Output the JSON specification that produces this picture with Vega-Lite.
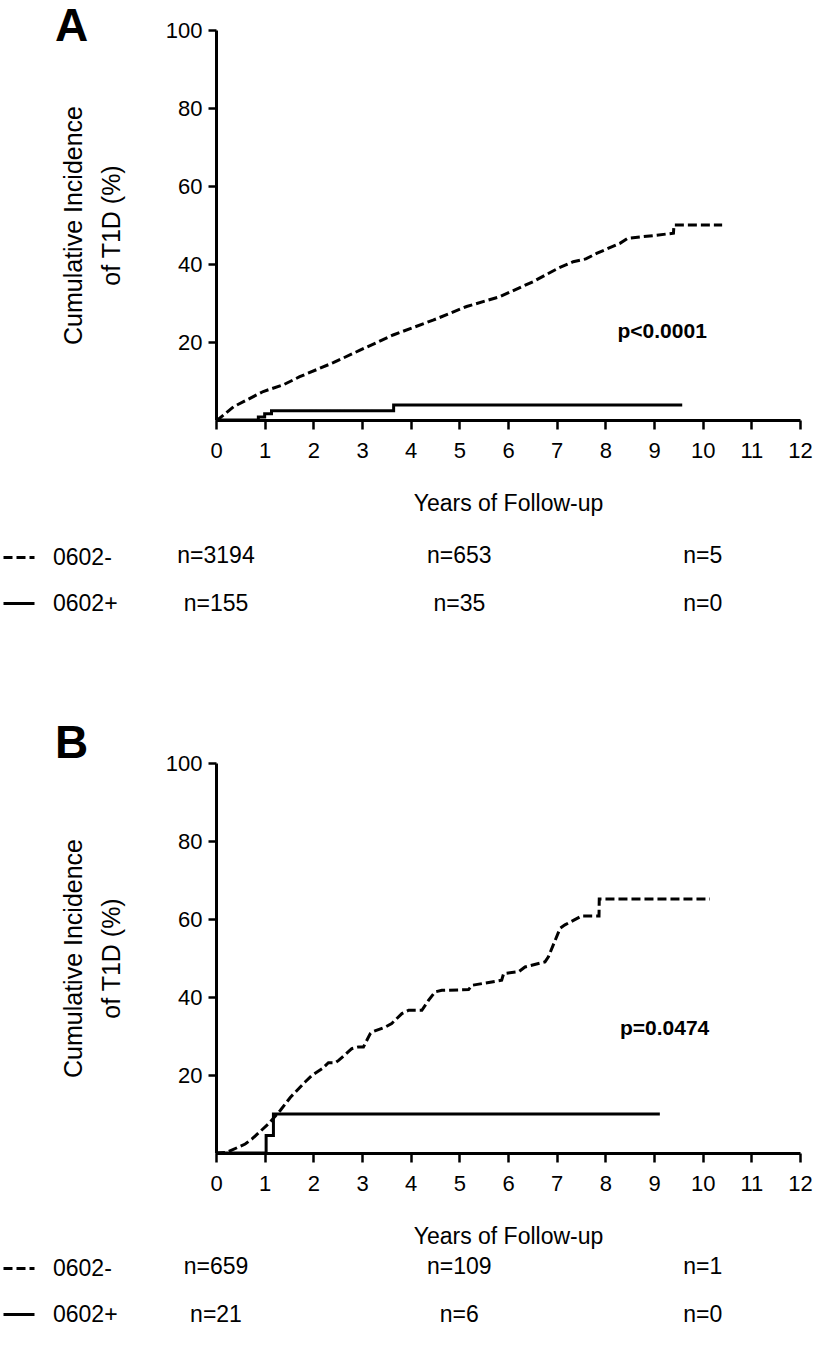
{
  "$schema": "https://vega.github.io/schema/vega-lite/v6.json",
  "padding": {"left": 2, "top": 4, "right": 0, "bottom": 0},
  "background": "white",
  "config": {
    "font": "Liberation Sans",
    "view": {"stroke": null},
    "axis": {"domainColor": "black", "tickColor": "black", "labelColor": "black", "titleColor": "black", "grid": false, "domainWidth": 3, "tickWidth": 2.5, "labelFontSize": 22, "titleFontWeight": "normal", "labelFont": "Liberation Sans", "titleFont": "Liberation Sans"},
    "text": {"color": "black", "font": "Liberation Sans"},
    "line": {"color": "black"},
    "title": {"color": "black", "font": "Liberation Sans"}
  },
  "datasets": {
    "curveA": [
      {"i": 0, "group": "0602-", "years": 0, "incidence": 0},
      {"i": 1, "group": "0602-", "years": 0.05, "incidence": 0.2},
      {"i": 2, "group": "0602-", "years": 0.36, "incidence": 3.4},
      {"i": 3, "group": "0602-", "years": 0.97, "incidence": 7.3},
      {"i": 4, "group": "0602-", "years": 1.38, "incidence": 9.0},
      {"i": 5, "group": "0602-", "years": 1.72, "incidence": 11.1},
      {"i": 6, "group": "0602-", "years": 2.41, "incidence": 14.7},
      {"i": 7, "group": "0602-", "years": 2.96, "incidence": 17.9},
      {"i": 8, "group": "0602-", "years": 3.64, "incidence": 21.8},
      {"i": 9, "group": "0602-", "years": 4.46, "incidence": 25.6},
      {"i": 10, "group": "0602-", "years": 5.15, "incidence": 29.1},
      {"i": 11, "group": "0602-", "years": 5.83, "incidence": 31.6},
      {"i": 12, "group": "0602-", "years": 6.52, "incidence": 35.5},
      {"i": 13, "group": "0602-", "years": 7.03, "incidence": 38.9},
      {"i": 14, "group": "0602-", "years": 7.34, "incidence": 40.6},
      {"i": 15, "group": "0602-", "years": 7.6, "incidence": 41.3},
      {"i": 16, "group": "0602-", "years": 7.82, "incidence": 42.7},
      {"i": 17, "group": "0602-", "years": 8.3, "incidence": 45.3},
      {"i": 18, "group": "0602-", "years": 8.46, "incidence": 46.6},
      {"i": 19, "group": "0602-", "years": 9.0, "incidence": 47.3},
      {"i": 20, "group": "0602-", "years": 9.4, "incidence": 47.9},
      {"i": 21, "group": "0602-", "years": 9.41, "incidence": 50.0},
      {"i": 22, "group": "0602-", "years": 10.4, "incidence": 50.0},
      {"i": 0, "group": "0602+", "years": 0, "incidence": 0},
      {"i": 1, "group": "0602+", "years": 0.87, "incidence": 0},
      {"i": 2, "group": "0602+", "years": 0.87, "incidence": 0.8},
      {"i": 3, "group": "0602+", "years": 1.0, "incidence": 0.8},
      {"i": 4, "group": "0602+", "years": 1.0, "incidence": 1.6},
      {"i": 5, "group": "0602+", "years": 1.14, "incidence": 1.6},
      {"i": 6, "group": "0602+", "years": 1.14, "incidence": 2.4},
      {"i": 7, "group": "0602+", "years": 3.65, "incidence": 2.4},
      {"i": 8, "group": "0602+", "years": 3.65, "incidence": 3.85},
      {"i": 9, "group": "0602+", "years": 9.58, "incidence": 3.85}
    ],
    "curveB": [
      {"i": 0, "group": "0602-", "years": 0, "incidence": 0},
      {"i": 1, "group": "0602-", "years": 0.23, "incidence": 0.2},
      {"i": 2, "group": "0602-", "years": 0.6, "incidence": 2.3},
      {"i": 3, "group": "0602-", "years": 0.74, "incidence": 3.6},
      {"i": 4, "group": "0602-", "years": 1.08, "incidence": 7.5},
      {"i": 5, "group": "0602-", "years": 1.32, "incidence": 10.9},
      {"i": 6, "group": "0602-", "years": 1.53, "incidence": 14.3},
      {"i": 7, "group": "0602-", "years": 1.63, "incidence": 15.6},
      {"i": 8, "group": "0602-", "years": 1.83, "incidence": 18.2},
      {"i": 9, "group": "0602-", "years": 1.97, "incidence": 19.9},
      {"i": 10, "group": "0602-", "years": 2.18, "incidence": 21.6},
      {"i": 11, "group": "0602-", "years": 2.31, "incidence": 23.15},
      {"i": 12, "group": "0602-", "years": 2.45, "incidence": 23.15},
      {"i": 13, "group": "0602-", "years": 2.52, "incidence": 23.75},
      {"i": 14, "group": "0602-", "years": 2.79, "incidence": 26.75},
      {"i": 15, "group": "0602-", "years": 2.93, "incidence": 27.2},
      {"i": 16, "group": "0602-", "years": 3.03, "incidence": 27.2},
      {"i": 17, "group": "0602-", "years": 3.1, "incidence": 28.9},
      {"i": 18, "group": "0602-", "years": 3.17, "incidence": 30.6},
      {"i": 19, "group": "0602-", "years": 3.2, "incidence": 31.0},
      {"i": 20, "group": "0602-", "years": 3.48, "incidence": 32.3},
      {"i": 21, "group": "0602-", "years": 3.61, "incidence": 33.2},
      {"i": 22, "group": "0602-", "years": 3.82, "incidence": 35.75},
      {"i": 23, "group": "0602-", "years": 3.96, "incidence": 36.6},
      {"i": 24, "group": "0602-", "years": 4.23, "incidence": 36.6},
      {"i": 25, "group": "0602-", "years": 4.37, "incidence": 39.2},
      {"i": 26, "group": "0602-", "years": 4.5, "incidence": 41.3},
      {"i": 27, "group": "0602-", "years": 4.64, "incidence": 41.7},
      {"i": 28, "group": "0602-", "years": 5.19, "incidence": 41.9},
      {"i": 29, "group": "0602-", "years": 5.26, "incidence": 43.0},
      {"i": 30, "group": "0602-", "years": 5.87, "incidence": 44.3},
      {"i": 31, "group": "0602-", "years": 5.91, "incidence": 46.0},
      {"i": 32, "group": "0602-", "years": 6.22, "incidence": 46.5},
      {"i": 33, "group": "0602-", "years": 6.35, "incidence": 47.7},
      {"i": 34, "group": "0602-", "years": 6.76, "incidence": 49.0},
      {"i": 35, "group": "0602-", "years": 6.83, "incidence": 50.3},
      {"i": 36, "group": "0602-", "years": 7.07, "incidence": 57.6},
      {"i": 37, "group": "0602-", "years": 7.17, "incidence": 58.5},
      {"i": 38, "group": "0602-", "years": 7.52, "incidence": 60.8},
      {"i": 39, "group": "0602-", "years": 7.87, "incidence": 60.8},
      {"i": 40, "group": "0602-", "years": 7.875, "incidence": 65.15},
      {"i": 41, "group": "0602-", "years": 10.15, "incidence": 65.15},
      {"i": 0, "group": "0602+", "years": 0, "incidence": 0},
      {"i": 1, "group": "0602+", "years": 1.03, "incidence": 0},
      {"i": 2, "group": "0602+", "years": 1.03, "incidence": 4.5},
      {"i": 3, "group": "0602+", "years": 1.18, "incidence": 4.5},
      {"i": 4, "group": "0602+", "years": 1.18, "incidence": 10.0},
      {"i": 5, "group": "0602+", "years": 9.12, "incidence": 10.0}
    ],
    "tableA": [
      {"group": "0602-", "years": 0, "at_risk": "n=3194"},
      {"group": "0602-", "years": 5, "at_risk": "n=653"},
      {"group": "0602-", "years": 10, "at_risk": "n=5"},
      {"group": "0602+", "years": 0, "at_risk": "n=155"},
      {"group": "0602+", "years": 5, "at_risk": "n=35"},
      {"group": "0602+", "years": 10, "at_risk": "n=0"}
    ],
    "tableB": [
      {"group": "0602-", "years": 0, "at_risk": "n=659"},
      {"group": "0602-", "years": 5, "at_risk": "n=109"},
      {"group": "0602-", "years": 10, "at_risk": "n=1"},
      {"group": "0602+", "years": 0, "at_risk": "n=21"},
      {"group": "0602+", "years": 5, "at_risk": "n=6"},
      {"group": "0602+", "years": 10, "at_risk": "n=0"}
    ]
  },
  "spacing": 105,
  "resolve": {"scale": {"strokeDash": "independent"}},
  "vconcat": [
    {
      "spacing": 25,
      "resolve": {"scale": {"strokeDash": "independent"}},
      "vconcat": [
        {
          "title": {"text": "A", "anchor": "start", "frame": "group", "fontSize": 46, "fontWeight": "bold", "dx": -161, "offset": -32},
          "width": 584,
          "height": 390,
          "layer": [
            {
              "data": {"name": "curveA"},
              "mark": {"type": "line", "strokeWidth": 3, "color": "black", "strokeCap": "butt"},
              "encoding": {
                "x": {"field": "years", "type": "quantitative", "scale": {"domain": [0, 12], "nice": false}, "axis": {"values": [0,1,2,3,4,5,6,7,8,9,10,11,12], "tickSize": 9, "labelPadding": 11, "labelFlush": false, "labelOverlap": false, "title": "Years of Follow-up", "titleFontSize": 23, "titlePadding": 31}},
                "y": {"field": "incidence", "type": "quantitative", "scale": {"domain": [0, 100], "nice": false}, "axis": {"values": [20, 40, 60, 80, 100], "tickSize": 8, "labelPadding": 6, "title": ["Cumulative Incidence", "of T1D (%)"], "titleFontSize": 25, "titleLineHeight": 38, "titlePadding": 41}},
                "strokeDash": {"field": "group", "type": "nominal", "scale": {"domain": ["0602-", "0602+"], "range": [[9, 4], [1, 0]]}, "legend": null},
                "order": {"field": "i", "type": "quantitative"}
              }
            },
            {
              "data": {"values": [{"p": "p<0.0001"}]},
              "mark": {"type": "text", "align": "left", "baseline": "alphabetic", "fontSize": 21, "fontWeight": "bold"},
              "encoding": {
                "x": {"datum": 8.25, "type": "quantitative"},
                "y": {"datum": 21, "type": "quantitative"},
                "text": {"field": "p"}
              }
            }
          ]
        },
        {
          "width": 584,
          "height": 48,
          "data": {"name": "tableA"},
          "layer": [
            {
              "mark": {"type": "text", "fontSize": 23, "align": "center", "baseline": "middle"},
              "encoding": {
                "x": {"field": "years", "type": "quantitative", "scale": {"domain": [0, 12], "nice": false}, "axis": null},
                "y": {"field": "group", "type": "nominal", "scale": {"domain": ["0602-", "0602+"], "padding": 0}, "axis": null},
                "text": {"field": "at_risk"}
              }
            },
            {
              "transform": [{"filter": "datum.years === 0"}],
              "mark": {"type": "line", "strokeWidth": 3, "color": "black"},
              "encoding": {
                "x": {"field": "years", "type": "quantitative"},
                "y": {"field": "group", "type": "nominal"},
                "strokeDash": {"field": "group", "type": "nominal", "scale": {"domain": ["0602-", "0602+"], "range": [[9, 4], [1, 0]]},
                  "legend": {"orient": "none", "legendX": -214, "legendY": -15.5, "title": null, "symbolType": "stroke", "symbolSize": 961, "symbolStrokeWidth": 3, "symbolStrokeColor": "black", "labelFontSize": 23, "labelColor": "black", "labelOffset": 17, "rowPadding": 17, "padding": 0, "labelLimit": 300}}
              }
            }
          ]
        }
      ]
    },
    {
      "spacing": 3,
      "resolve": {"scale": {"strokeDash": "independent"}},
      "vconcat": [
        {
          "title": {"text": "B", "anchor": "start", "frame": "group", "fontSize": 46, "fontWeight": "bold", "dx": -161, "offset": -16},
          "width": 584,
          "height": 390,
          "layer": [
            {
              "data": {"name": "curveB"},
              "mark": {"type": "line", "strokeWidth": 3, "color": "black", "strokeCap": "butt"},
              "encoding": {
                "x": {"field": "years", "type": "quantitative", "scale": {"domain": [0, 12], "nice": false}, "axis": {"values": [0,1,2,3,4,5,6,7,8,9,10,11,12], "tickSize": 9, "labelPadding": 11, "labelFlush": false, "labelOverlap": false, "title": "Years of Follow-up", "titleFontSize": 23, "titlePadding": 31}},
                "y": {"field": "incidence", "type": "quantitative", "scale": {"domain": [0, 100], "nice": false}, "axis": {"values": [20, 40, 60, 80, 100], "tickSize": 8, "labelPadding": 6, "title": ["Cumulative Incidence", "of T1D (%)"], "titleFontSize": 25, "titleLineHeight": 38, "titlePadding": 41}},
                "strokeDash": {"field": "group", "type": "nominal", "scale": {"domain": ["0602-", "0602+"], "range": [[9, 4], [1, 0]]}, "legend": null},
                "order": {"field": "i", "type": "quantitative"}
              }
            },
            {
              "data": {"values": [{"p": "p=0.0474"}]},
              "mark": {"type": "text", "align": "left", "baseline": "alphabetic", "fontSize": 21, "fontWeight": "bold"},
              "encoding": {
                "x": {"datum": 8.3, "type": "quantitative"},
                "y": {"datum": 30.3, "type": "quantitative"},
                "text": {"field": "p"}
              }
            }
          ]
        },
        {
          "width": 584,
          "height": 48,
          "data": {"name": "tableB"},
          "layer": [
            {
              "mark": {"type": "text", "fontSize": 23, "align": "center", "baseline": "middle"},
              "encoding": {
                "x": {"field": "years", "type": "quantitative", "scale": {"domain": [0, 12], "nice": false}, "axis": null},
                "y": {"field": "group", "type": "nominal", "scale": {"domain": ["0602-", "0602+"], "padding": 0}, "axis": null},
                "text": {"field": "at_risk"}
              }
            },
            {
              "transform": [{"filter": "datum.years === 0"}],
              "mark": {"type": "line", "strokeWidth": 3, "color": "black"},
              "encoding": {
                "x": {"field": "years", "type": "quantitative"},
                "y": {"field": "group", "type": "nominal"},
                "strokeDash": {"field": "group", "type": "nominal", "scale": {"domain": ["0602-", "0602+"], "range": [[9, 4], [1, 0]]},
                  "legend": {"orient": "none", "legendX": -214, "legendY": -15.5, "title": null, "symbolType": "stroke", "symbolSize": 961, "symbolStrokeWidth": 3, "symbolStrokeColor": "black", "labelFontSize": 23, "labelColor": "black", "labelOffset": 17, "rowPadding": 17, "padding": 0, "labelLimit": 300}}
              }
            }
          ]
        }
      ]
    }
  ]
}
